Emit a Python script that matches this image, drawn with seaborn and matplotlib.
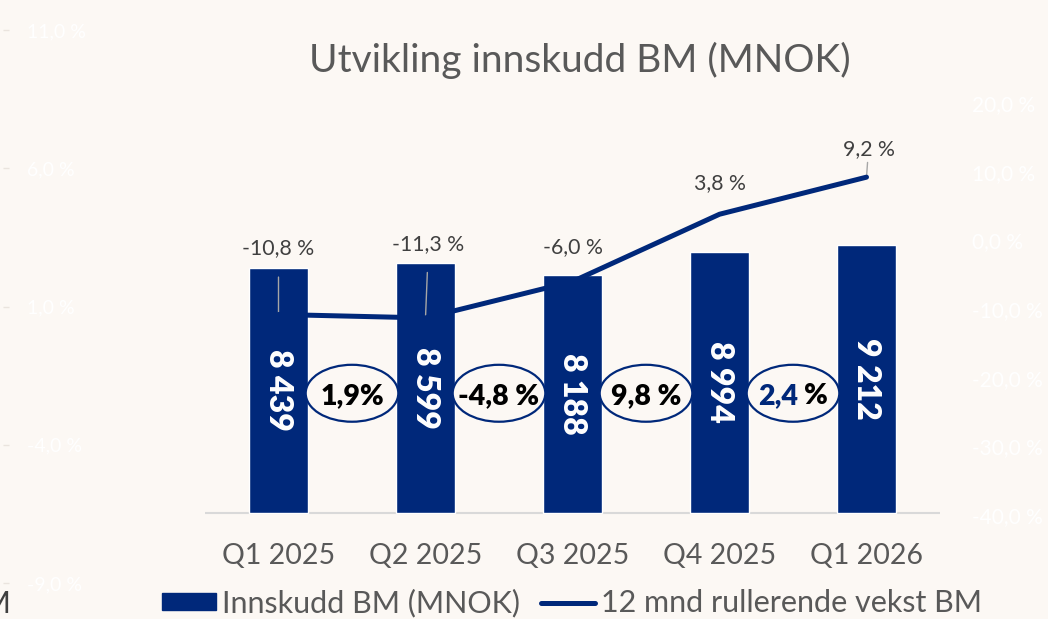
import matplotlib
matplotlib.use("Agg")
import matplotlib.pyplot as plt
from matplotlib.patches import Ellipse, Patch
from matplotlib.lines import Line2D
import pandas as pd
import seaborn as sns

# Data
quarters = ["Q1 2025", "Q2 2025", "Q3 2025", "Q4 2025", "Q1 2026"]
deposits = [8439, 8599, 8188, 8994, 9212]           # Innskudd BM (MNOK)
growth_12m = [-10.8, -11.3, -6.0, 3.8, 9.2]         # 12 mnd rullerende vekst BM (%)
qoq_labels = ["1,9%", "-4,8 %", "9,8 %", "2,4 %"]  # change between quarters
right_ticks = [-40, -30, -20, -10, 0, 10, 20]
ghost_ticks = [-9, -4, 1, 6, 11]

NAVY = "#00287A"
BG = "#FCF8F4"
GREY = "#595959"

df = pd.DataFrame({"Kvartal": quarters, "Innskudd": deposits, "Vekst": growth_12m})

sns.set_theme(style="white")
plt.rcParams["font.family"] = ["Lato", "DejaVu Sans"]

W, H = 1048, 619
fig = plt.figure(figsize=(W / 100, H / 100), dpi=100, facecolor=BG)
ax = fig.add_axes([205 / W, 1 - 515 / H, 735 / W, 412 / H], facecolor=BG)

sns.barplot(data=df, x="Kvartal", y="Innskudd", color=NAVY, width=0.4,
            saturation=1, ax=ax, zorder=2)
ax.set_ylim(-70, 14110)
ax.set_xlim(-0.5, 4.5)
ax.axhline(0, color="#D9D9D9", lw=1.5, zorder=1)
for s in ax.spines.values():
    s.set_visible(False)
ax.set_yticks([])
ax.set_xlabel("")
ax.set_ylabel("")
ax.tick_params(axis="x", length=0, pad=20, labelsize=20.5, labelcolor=GREY)

# value labels inside bars
ax.bar_label(ax.containers[0], labels=[f"{v:,}".replace(",", " ") for v in deposits],
             label_type="center", rotation=270, color="white", fontsize=23,
             fontweight="heavy")

# ellipses with quarter-on-quarter change
ey = 4120
for i, lab in enumerate(qoq_labels):
    ax.add_patch(Ellipse((i + 0.5, ey), 0.63, 1960, facecolor=BG,
                         edgecolor=NAVY, lw=1.6, zorder=3))
    if i == 3:
        # number in navy, percent sign in black
        num, pct = lab.split(" ")
        t1 = ax.annotate(num, (i + 0.5, ey), xytext=(5, 0), textcoords="offset pixels",
                         ha="right", va="center_baseline", color=NAVY, fontsize=20.5,
                         fontweight="heavy", zorder=4)
        ax.annotate(pct, xy=(1, ey), xycoords=(t1, "data"), xytext=(6, 0),
                    textcoords="offset pixels", ha="left", va="center_baseline",
                    color="black", fontsize=20.5, fontweight="heavy", zorder=4)
    else:
        ax.text(i + 0.5, ey, lab, color="black", fontsize=20.5, fontweight="heavy",
                ha="center", va="center_baseline", zorder=4)

# secondary axis for the rolling growth line
ax2 = ax.twinx()
sns.lineplot(data=df, x="Kvartal", y="Vekst", color=NAVY, lw=3.6, ax=ax2,
             sort=False, zorder=5)
ax2.set_ylim(-40, 20)
ax2.set_yticks(right_ticks)
ax2.set_yticklabels([f"{t:.1f} %".replace(".", ",") for t in right_ticks])
ax2.tick_params(axis="y", length=0, pad=23, labelsize=15, labelcolor="white")
ax2.set_xlabel("")
ax2.set_ylabel("")
for s in ax2.spines.values():
    s.set_visible(False)

offsets = [(0, 66), (3, 74), (0, 34), (0, 31), (2, 28)]
leaders = [True, True, False, False, True]
for i, (v, off, lead) in enumerate(zip(growth_12m, offsets, leaders)):
    ax2.annotate(f"{v:.1f} %".replace(".", ","), (i, v), xytext=off,
                 textcoords="offset pixels", ha="center", va="center",
                 fontsize=15.3, color="#404040",
                 arrowprops=dict(arrowstyle="-", color="#A6A6A6", lw=1,
                                 shrinkA=11, shrinkB=0) if lead else None)

# faint axis left over on the slide's left edge
axg = fig.add_axes([0, 1 - 583 / H, 3 / W, 553 / H], facecolor="none")
axg.set_ylim(-9, 11)
axg.set_yticks(ghost_ticks)
axg.set_yticklabels([f"{t:.1f} %".replace(".", ",") for t in ghost_ticks])
axg.yaxis.tick_right()
axg.tick_params(axis="y", length=4, width=1, color="#EAE4DE", pad=13,
                labelsize=14, labelcolor="white")
axg.set_xticks([])
for s in axg.spines.values():
    s.set_visible(False)
fig.text(11 / W, 1 - 604 / H, "BM", ha="right", va="center", fontsize=22,
         color="#404040")

fig.text(580 / W, 1 - 60 / H, "Utvikling innskudd BM (MNOK)", ha="center",
         va="center", fontsize=28, color=GREY)

handles = [Patch(facecolor=NAVY, edgecolor=NAVY),
           Line2D([], [], color=NAVY, lw=3.6, solid_capstyle="round")]
fig.legend(handles, ["Innskudd BM (MNOK)", "12 mnd rullerende vekst BM"],
           loc="center", bbox_to_anchor=(572 / W, 1 - 603 / H), ncol=2,
           frameon=False, fontsize=22, labelcolor=GREY, handlelength=1.75,
           handleheight=0.5, handletextpad=0.2, columnspacing=0.7)

fig.savefig("out.png", dpi=100, facecolor=BG)
